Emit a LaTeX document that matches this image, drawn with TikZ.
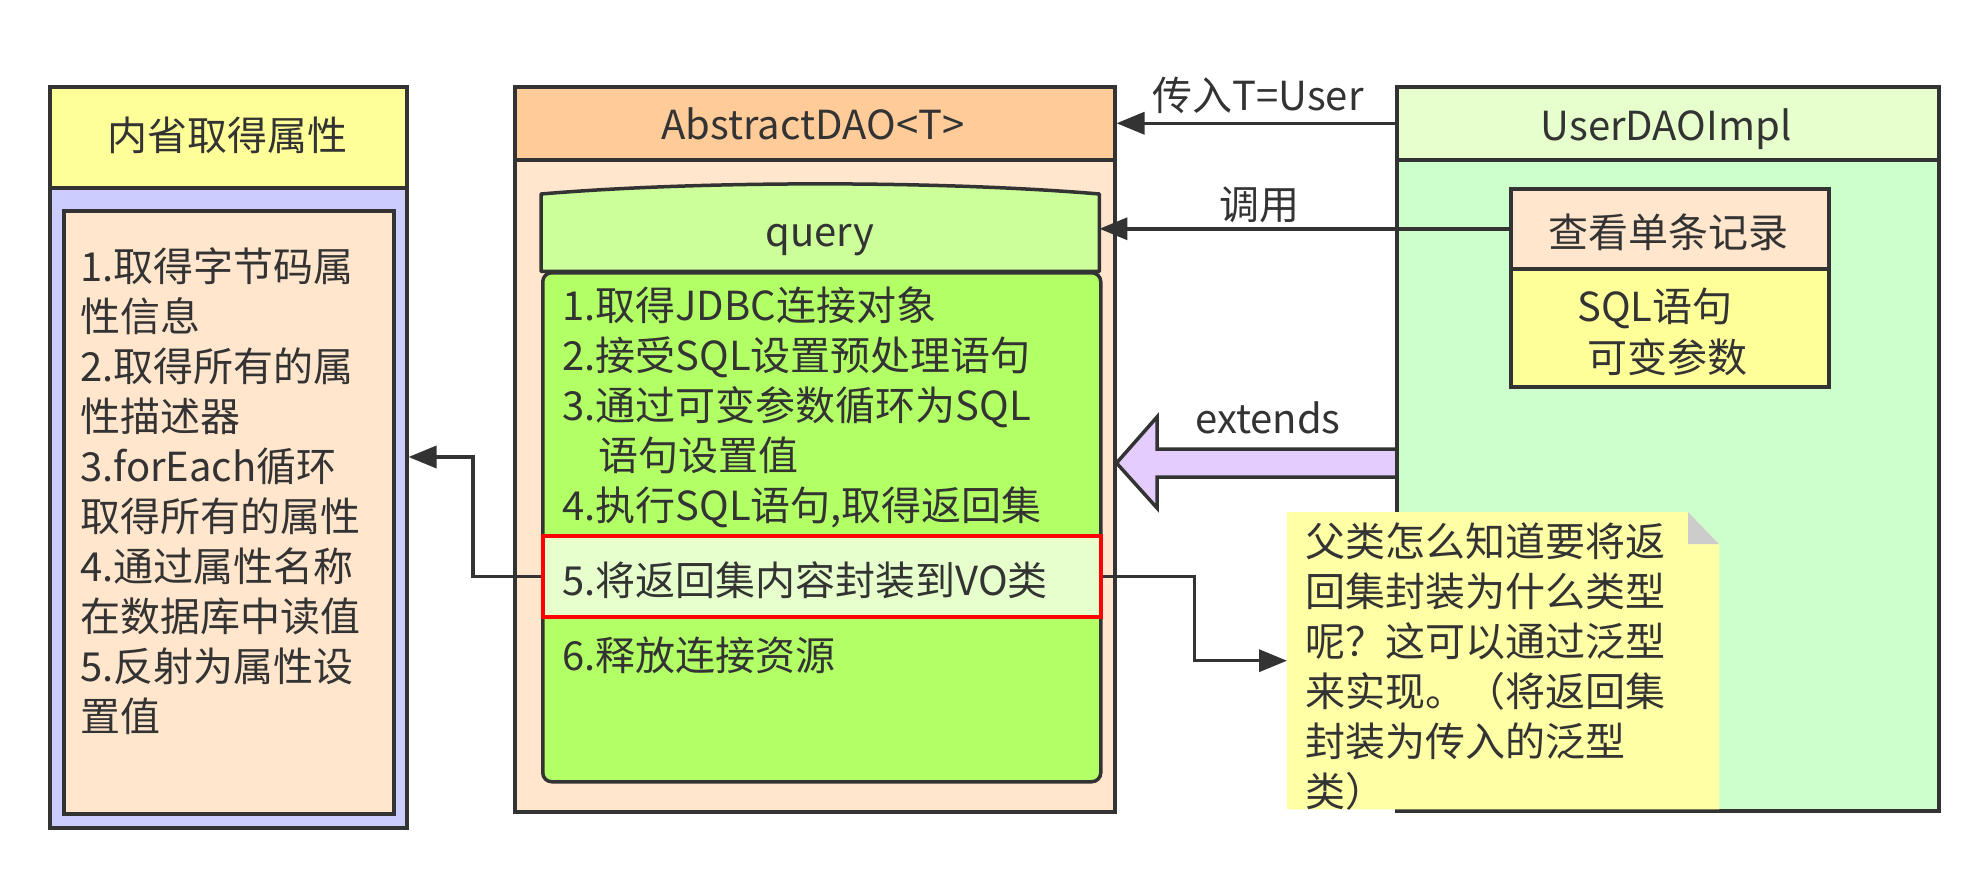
\documentclass[tikz,border=0pt]{standalone}
\usepackage{fontspec}
\setmainfont{Noto Sans CJK SC}
\usetikzlibrary{arrows.meta}
\definecolor{dk}{HTML}{333333}
\definecolor{yel}{HTML}{FFFF99}
\definecolor{lav}{HTML}{CCCCFF}
\definecolor{peach}{HTML}{FFE6CC}
\definecolor{orng}{HTML}{FFCC99}
\definecolor{qhd}{HTML}{CCFF99}
\definecolor{qbd}{HTML}{B3FF66}
\definecolor{lgrn}{HTML}{E6FFCC}
\definecolor{mint}{HTML}{CCFFCC}
\definecolor{purp}{HTML}{E5CCFF}
\definecolor{notey}{HTML}{FFFFA6}
\definecolor{foldg}{HTML}{CCCCCC}
\definecolor{redb}{HTML}{FF0000}
\tikzset{
  rbox/.style={draw=dk, line width=3.5pt, inner sep=0pt, anchor=north west},
  t/.style={font=\fontsize{40}{48}\selectfont, text=dk, inner sep=0pt},
  arr/.style={draw=dk, line width=3.5pt, -{Triangle[length=28pt,width=22pt]}},
}
\begin{document}
\begin{tikzpicture}[x=1pt,y=-1pt]
\useasboundingbox[fill=white] (0,0) rectangle (1986,876);

% ---------- left box ----------
\node[rbox, fill=yel, minimum width=357pt, minimum height=101pt] (lhead) at (48,85) {};
\node[rbox, fill=lav, minimum width=357pt, minimum height=640pt] (lbody) at (48,186) {};
\node[rbox, fill=peach, minimum width=330pt, minimum height=603pt] (linner) at (62,209) {};
\node[t, anchor=base] (ltitle) at (227,150) {内省取得属性};
\foreach \s [count=\i from 0] in {1.取得字节码属,性信息,2.取得所有的属,性描述器,3.forEach循环,取得所有的属性,4.通过属性名称,在数据库中读值,5.反射为属性设,置值}
  \node[t, anchor=base west] (ll\i) at (80,{281+50*\i}) {\s};

% ---------- AbstractDAO ----------
\node[rbox, fill=orng, minimum width=600pt, minimum height=73pt] (ahead) at (513,85) {};
\node[rbox, fill=peach, minimum width=600pt, minimum height=652pt] (abody) at (513,158) {};
\node[t, anchor=base] (atitle) at (813,139) {AbstractDAO<T>};

% query
\node[inner sep=0pt, minimum width=558pt, minimum height=77pt, anchor=north west] (qhead) at (541,194) {};
\draw[draw=dk, line width=3.5pt, fill=qhd, line join=round]
  (qhead.south west) -- (qhead.north west) .. controls (700,180.5) and (940,180.5) .. (qhead.north east) -- (qhead.south east) -- cycle;
\node[rbox, fill=qbd, rounded corners=9pt, minimum width=558pt, minimum height=509pt] (qbody) at (541,271) {};
\node[t, anchor=base] (qtitle) at (820,246) {query};
\node[rbox, draw=redb, fill=lgrn, minimum width=558pt, minimum height=81pt] (red) at (541,534) {};
\node[t, anchor=base west] (q1) at (562,320) {1.取得JDBC连接对象};
\node[t, anchor=base west] (q2) at (562,370) {2.接受SQL设置预处理语句};
\node[t, anchor=base west] (q3) at (562,420) {3.通过可变参数循环为SQL};
\node[t, anchor=base west] (q3b) at (598,470) {语句设置值};
\node[t, anchor=base west] (q4) at (562,520) {4.执行SQL语句,取得返回集};
\node[t, anchor=base west] (q5) at (562,595) {5.将返回集内容封装到VO类};
\node[t, anchor=base west] (q6) at (562,670) {6.释放连接资源};

% ---------- extends block arrow ----------
\draw[draw=dk, line width=3.5pt, fill=purp, line join=miter]
  (1395,449) -- (1157,449) -- (1157,417) -- (abody.east |- 0,463) -- (1157,508) -- (1157,477) -- (1395,477);
\node[t, anchor=base] (ext) at (1268,433) {extends};

% ---------- UserDAOImpl ----------
\node[rbox, fill=lgrn, minimum width=542pt, minimum height=73pt] (uhead) at (1395,85) {};
\node[rbox, fill=mint, minimum width=542pt, minimum height=651pt] (ubody) at (1395,158) {};
\node[t, anchor=base] (utitle) at (1666,140) {UserDAOImpl};
\node[rbox, fill=peach, minimum width=318pt, minimum height=80pt] (rec) at (1509,187) {};
\node[rbox, fill=yel, minimum width=318pt, minimum height=118pt] (recb) at (1509,267) {};
\node[t, anchor=base] (rect) at (1668,247) {查看单条记录};
\node[t, anchor=base] (sql) at (1655,321) {SQL语句};
\node[t, anchor=base] (var) at (1667,372) {可变参数};

% ---------- connectors ----------
\draw[arr] (uhead.west) -- (uhead.west -| ahead.east);
\node[t, anchor=base] (lbl1) at (1258,110) {传入T=User};
\draw[arr] (rec.west) -- (rec.west -| qhead.east);
\node[t, anchor=base] (lbl2) at (1259,219) {调用};
\draw[arr] (red.west) -- ++(-68,0) |- (lbody.east |- 0,457);

% ---------- note ----------
\node[inner sep=0pt, minimum width=432pt, minimum height=297pt, anchor=north west] (note) at (1287,512) {};
\fill[notey] (note.north west) -- (1688,512) -- (note.north east |- 0,544) -- (note.south east) -- (note.south west) -- cycle;
\fill[foldg] (1688,512) -- (1719,544) -- (1688,544) -- cycle;
\draw[arr] (red.east) -- ++(92,0) |- (note.west);
\foreach \s [count=\i from 0] in {父类怎么知道要将返,回集封装为什么类型,呢？这可以通过泛型,来实现。（将返回集,封装为传入的泛型,类）}
  \node[t, anchor=base west] (n\i) at (1305,{556+50*\i}) {\s};
\end{tikzpicture}
\end{document}
